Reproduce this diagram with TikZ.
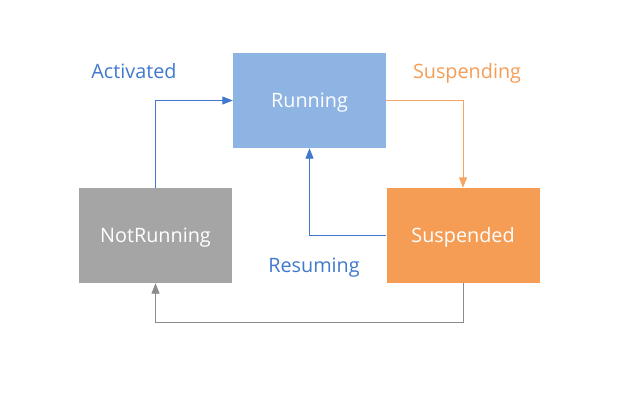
\documentclass[tikz,border=0pt]{standalone}
\usepackage{fontspec}
\setmainfont{Open Sans}
\usetikzlibrary{arrows.meta}
\definecolor{runblue}{RGB}{142,180,227}
\definecolor{susorange}{RGB}{245,157,85}
\definecolor{notgrey}{RGB}{165,165,165}
\definecolor{textblue}{RGB}{64,120,205}
\definecolor{lineorange}{RGB}{245,165,100}
\definecolor{linegrey}{RGB}{140,140,140}
\tikzset{
    statebox/.style={minimum width=153pt,minimum height=95pt,inner sep=0pt,text=white,
        text height=14.3pt,text depth=0pt,font=\fontsize{19.8}{22}\selectfont},
    lbl/.style={inner sep=0pt,text height=14.3pt,text depth=0pt,font=\fontsize{19.8}{22}\selectfont},
    conn/.style={line width=0.9pt,-{Triangle[length=10.5pt,width=8pt]}}
}
\begin{document}
\begin{tikzpicture}[x=1pt,y=1pt]
        \useasboundingbox (0,0) rectangle (620,400);
        \node [statebox,fill=runblue] (run) at (309.5,299.5) {Running};
        \node [statebox,fill=susorange] (sus) at (463,164.5) {Suspended};
        \node [statebox,fill=notgrey] (notrun) at (155.5,164.5) {NotRunning};
        \node [lbl,text=textblue] (act) at (134,329) {Activated};
        \node [lbl,text=susorange] (susp) at (467,329) {Suspending};
        \node [lbl,text=textblue] (res) at (314,135) {Resuming};
        \coordinate (low) at (463,78);
        \draw [conn,textblue] (notrun.north) |- (run.west);
        \draw [conn,lineorange] (run.east) -| (sus.north);
        \draw [conn,textblue] (sus.west) -| (run.south);
        \draw [conn,linegrey] (sus.south) -- (low) -| (notrun.south);
\end{tikzpicture}
\end{document}
